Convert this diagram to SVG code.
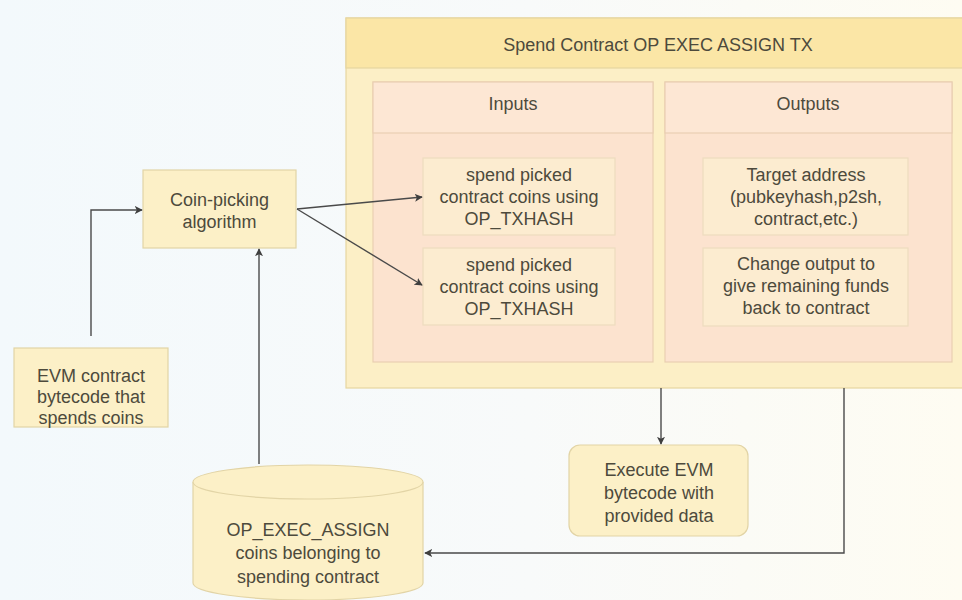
<svg xmlns="http://www.w3.org/2000/svg" width="962" height="600" viewBox="0 0 962 600">
  <defs>
    <linearGradient id="bg" x1="0" y1="0" x2="1" y2="0">
      <stop offset="0" stop-color="#f3f9fc"/>
      <stop offset="0.55" stop-color="#f8fafa"/>
      <stop offset="1" stop-color="#fefcf2"/>
    </linearGradient>
    <marker id="arr" viewBox="0 0 10 10" refX="9" refY="5" markerWidth="8" markerHeight="8" markerUnits="userSpaceOnUse" orient="auto">
      <path d="M0,0 L10,5 L0,10 L2.5,5 Z" fill="#3f3f3f"/>
    </marker>
    <style>
      text { font-family: "Liberation Sans", Arial, sans-serif; font-size: 18px; fill: #4d4a3c; text-anchor: middle; }
      .box { fill: #fcf0c7; stroke: #e2d4a6; stroke-width: 1.2; }
      .cont { fill: #fcefc6; stroke: #e6d6a0; stroke-width: 1.2; }
      .conthead { fill: #fbe6a6; stroke: #e6d6a0; stroke-width: 1.2; }
      .lane { fill: #fce3cf; stroke: #e9cfb2; stroke-width: 1.2; }
      .lanehead { fill: #fde7d4; stroke: #e9cfb2; stroke-width: 1.2; }
      .inner { fill: #fcecd0; stroke: #eddcbf; stroke-width: 1.2; }
      .conn { fill: none; stroke: #4a4a4a; stroke-width: 1.4; }
    </style>
  </defs>
  <rect x="0" y="0" width="962" height="600" fill="url(#bg)"/>

  <g id="spend-contract-tx">
    <rect class="cont" x="346" y="18" width="630" height="370"/>
    <rect class="conthead" x="346" y="18" width="630" height="50"/>
    <text x="658" y="51">Spend Contract OP EXEC ASSIGN TX</text>
  </g>

  <g id="inputs">
    <rect class="lane" x="373" y="82" width="280" height="280"/>
    <rect class="lanehead" x="373" y="82" width="280" height="51"/>
    <text x="513" y="110">Inputs</text>
  </g>

  <g id="outputs">
    <rect class="lane" x="665" y="82" width="287" height="280"/>
    <rect class="lanehead" x="665" y="82" width="287" height="51"/>
    <text x="808" y="110">Outputs</text>
  </g>

  <g id="input-1">
    <rect class="inner" x="423" y="158" width="192" height="77"/>
    <text x="519" y="181">spend picked</text>
    <text x="519" y="203">contract coins using</text>
    <text x="519" y="225">OP_TXHASH</text>
  </g>

  <g id="input-2">
    <rect class="inner" x="423" y="248" width="192" height="77"/>
    <text x="519" y="271">spend picked</text>
    <text x="519" y="293">contract coins using</text>
    <text x="519" y="315">OP_TXHASH</text>
  </g>

  <g id="output-target">
    <rect class="inner" x="703" y="158" width="205" height="77"/>
    <text x="806" y="181">Target address</text>
    <text x="806" y="203">(pubkeyhash,p2sh,</text>
    <text x="806" y="225">contract,etc.)</text>
  </g>

  <g id="output-change">
    <rect class="inner" x="703" y="248" width="205" height="78"/>
    <text x="806" y="270">Change output to</text>
    <text x="806" y="292">give remaining funds</text>
    <text x="806" y="314">back to contract</text>
  </g>

  <g id="coin-picking">
    <rect class="box" x="143" y="170" width="153" height="78"/>
    <text x="219.5" y="206">Coin-picking</text>
    <text x="219.5" y="228">algorithm</text>
  </g>

  <g id="evm-bytecode">
    <rect class="box" x="14" y="348" width="154" height="79"/>
    <text x="91" y="382">EVM contract</text>
    <text x="91" y="403">bytecode that</text>
    <text x="91" y="424">spends coins</text>
  </g>

  <g id="execute-evm">
    <rect class="box" x="569" y="445" width="179" height="91" rx="11" ry="11"/>
    <text x="659" y="476">Execute EVM</text>
    <text x="659" y="499">bytecode with</text>
    <text x="659" y="522">provided data</text>
  </g>

  <g id="coins-db">
    <path class="box" d="M193,482 A115,17 0 0 1 423,482 L423,583 A115,17 0 0 1 193,583 Z"/>
    <path class="box" d="M193,482 A115,17 0 0 0 423,482" fill="none"/>
    <text x="308" y="536">OP_EXEC_ASSIGN</text>
    <text x="308" y="559">coins belonging to</text>
    <text x="308" y="583">spending contract</text>
  </g>

  <g id="connectors">
    <path class="conn" d="M91,336 L91,210 L142,210" marker-end="url(#arr)"/>
    <path class="conn" d="M259,464 L259,249" marker-end="url(#arr)"/>
    <path class="conn" d="M297,209 L422,197" marker-end="url(#arr)"/>
    <path class="conn" d="M297,209 L422,285" marker-end="url(#arr)"/>
    <path class="conn" d="M661,388 L661,444" marker-end="url(#arr)"/>
    <path class="conn" d="M844,388 L844,553 L425,553" marker-end="url(#arr)"/>
  </g>
</svg>
